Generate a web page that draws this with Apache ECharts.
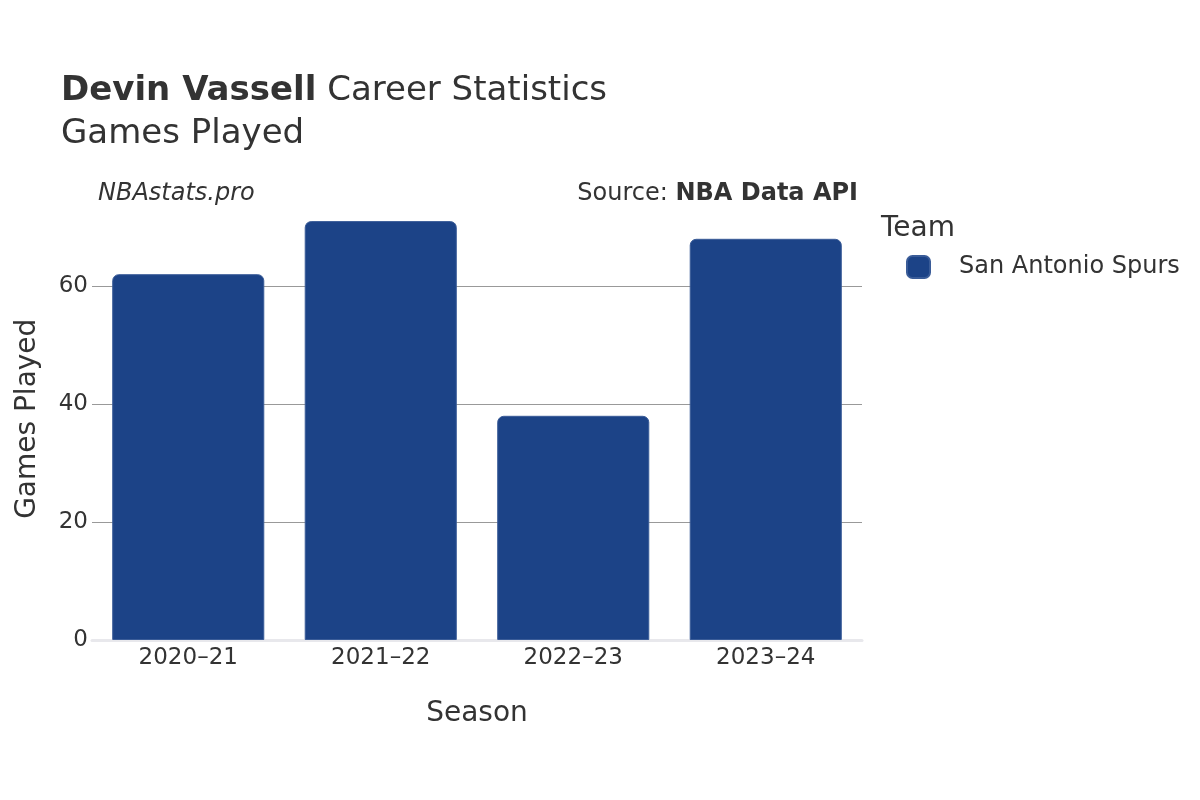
<!DOCTYPE html>
<html>
<head>
<meta charset="utf-8">
<script src="https://cdn.jsdelivr.net/npm/echarts@6/dist/echarts.min.js"></script>
<style>html,body{margin:0;padding:0;background:#fff}#c{width:1200px;height:800px}</style>
</head>
<body>
<div id="c"></div>
<script>
const seasons = ['2020–21', '2021–22', '2022–23', '2023–24'];
const gamesPlayed = [62, 71, 38, 68];
const teamName = 'San Antonio Spurs';
const yTicks = [0, 20, 40, 60];

const FONT = 'DejaVu Sans';
const chart = echarts.init(document.getElementById('c'), null, {renderer: 'canvas'});
chart.setOption({
  backgroundColor: '#fff',
  animation: false,
  textStyle: {fontFamily: FONT},
  title: {
    left: 61, top: 70, padding: 0,
    text: '{b|Devin Vassell}{n| Career Statistics}\n{n|Games Played}',
    textStyle: {
      fontWeight: 'normal',
      rich: {
        b: {fontFamily: FONT, fontSize: 34, fontWeight: 'bold', color: '#333', lineHeight: 43},
        n: {fontFamily: FONT, fontSize: 34, fontWeight: 'normal', color: '#333', lineHeight: 43}
      }
    }
  },
  legend: {
    left: 906, top: 255, padding: 0,
    orient: 'vertical',
    icon: 'roundRect',
    itemWidth: 23, itemHeight: 22,
    textStyle: {fontFamily: FONT, fontSize: 24, color: '#333', padding: [0, 0, 0, 24]},
    data: [teamName]
  },
  graphic: [
    {type: 'text', left: 98, top: 182, style: {text: 'NBAstats.pro', font: 'italic 24px "DejaVu Sans"', fill: '#333'}},
    {type: 'text', right: 342, top: 182, style: {
      text: '{n|Source: }{b|NBA Data API}',
      rich: {n: {fontFamily: FONT, fontSize: 24, fill: '#333'}, b: {fontFamily: FONT, fontSize: 24, fontWeight: 'bold', fill: '#333'}}
    }},
    {type: 'text', left: 881, top: 215, style: {text: 'Team', font: '28px "DejaVu Sans"', fill: '#333'}}
  ],
  grid: {left: 92, right: 338, top: 197.5, bottom: 160, containLabel: false, outerBoundsMode: 'none'},
  xAxis: {
    type: 'category',
    data: seasons,
    name: 'Season',
    nameLocation: 'middle',
    nameGap: 60,
    nameTextStyle: {fontFamily: FONT, fontSize: 28, color: '#333'},
    axisLine: {show: true, lineStyle: {color: '#e8e8ec', width: 3}},
    axisTick: {show: false},
    axisLabel: {fontFamily: FONT, fontSize: 23, color: '#333', margin: 7}
  },
  yAxis: {
    type: 'value',
    min: 0, max: 75, interval: 20,
    name: 'Games Played',
    nameLocation: 'middle',
    nameGap: 50,
    nameTextStyle: {fontFamily: FONT, fontSize: 28, color: '#333'},
    axisLine: {show: false},
    axisTick: {show: false},
    axisLabel: {fontFamily: FONT, fontSize: 23, color: '#333', margin: 4,
      showMaxLabel: false,
      formatter: v => yTicks.includes(v) ? String(v) : ''},
    splitLine: {show: true, lineStyle: {color: ['transparent', '#999', '#999', '#999', 'transparent'], width: 1}}
  },
  series: [{
    name: teamName,
    type: 'bar',
    data: gamesPlayed,
    barCategoryGap: '21%',
    itemStyle: {color: '#1c4387', borderRadius: [6, 6, 0, 0], borderColor: '#3a5c98', borderWidth: 1}
  }]
});
</script>
</body>
</html>
